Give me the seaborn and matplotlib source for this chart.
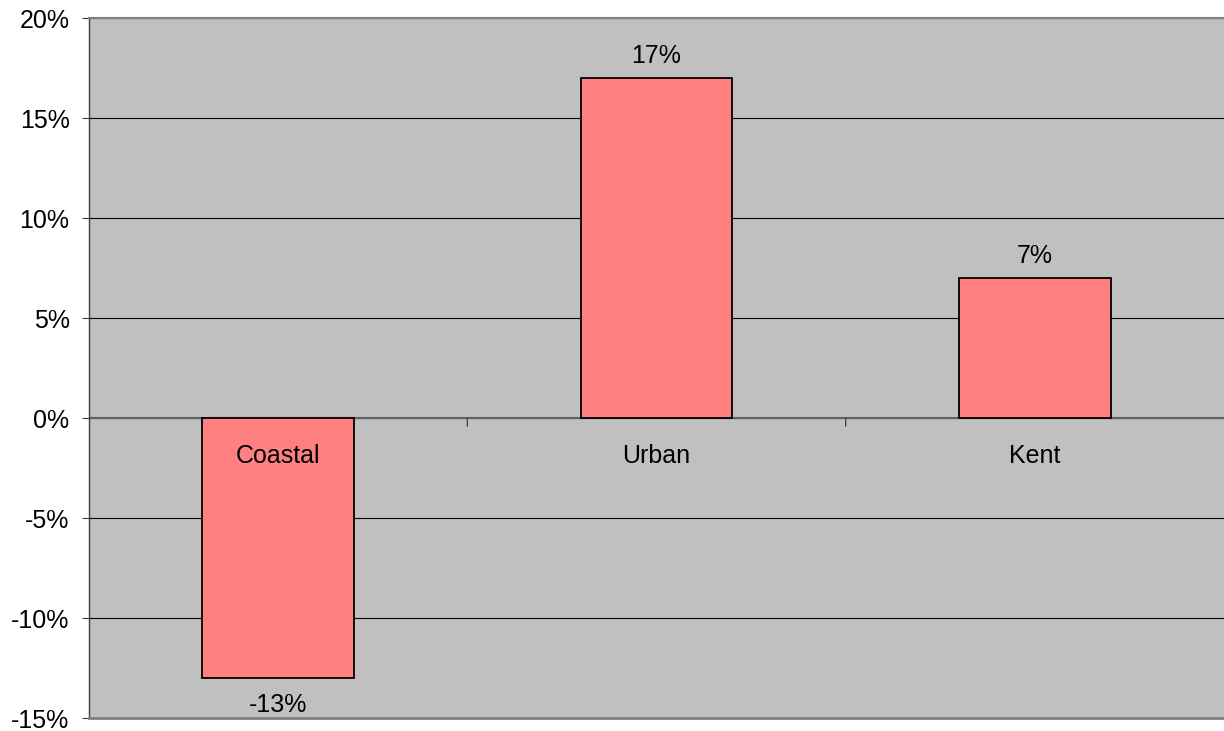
import matplotlib
matplotlib.use("Agg")
import matplotlib.pyplot as plt
import seaborn as sns
import pandas as pd
from matplotlib.ticker import FuncFormatter, MultipleLocator

categories = ["Coastal", "Urban", "Kent"]
change_pct = [-13, 17, 7]

df = pd.DataFrame({"area": categories, "change": change_pct})

sns.set_style("white")
plt.rcParams["font.family"] = ["Liberation Sans", "DejaVu Sans"]
plt.rcParams["text.color"] = "black"
plt.rcParams["ytick.color"] = "black"
plt.rcParams["xtick.color"] = "black"

fig = plt.figure(figsize=(12.24, 7.31), dpi=100)
ax = fig.add_axes([89 / 1224, 13 / 731, 1 - 89 / 1224, 700 / 731])
ax.set_facecolor("#C0C0C0")
ax.set_axisbelow(True)

sns.barplot(data=df, x="area", y="change", color="#FF8080", saturation=1,
            edgecolor="black", linewidth=1.3, width=0.4, ax=ax, zorder=2)

ax.set_xlim(-0.5, 2.5)
ax.set_ylim(-15, 20)
ax.yaxis.set_major_locator(MultipleLocator(5))
ax.yaxis.set_major_formatter(FuncFormatter(lambda v, _: f"{v:.0f}%"))
ax.grid(axis="y", color="black", linewidth=0.8)
ax.grid(axis="x", visible=False)
ax.tick_params(axis="y", direction="out", length=5, width=0.8, color="#404040",
               labelsize=18, labelcolor="black", pad=9, left=True)

# category separators on the zero line
ax.set_xticks([0.5, 1.5])
ax.set_xticklabels([])
ax.tick_params(axis="x", length=0)
ax.axhline(0, color="#606060", linewidth=1.5, zorder=1.5)
for xpos in [0.5, 1.5]:
    ax.annotate("", xy=(xpos, 0), xycoords="data", xytext=(0, -6),
                textcoords="offset points",
                arrowprops=dict(arrowstyle="-", color="#404040", lw=0.9,
                                shrinkA=0, shrinkB=0))

# category names under the zero line
for i, name in enumerate(categories):
    ax.annotate(name, xy=(i, 0), xytext=(0, -27.5), textcoords="offset points",
                ha="center", va="center", fontsize=18, color="black", zorder=5)

ax.set_xlabel("")
ax.set_ylabel("")

# value labels just beyond the end of each bar
for i, v in enumerate(change_pct):
    offset = 7.5 if v >= 0 else -10.5
    ax.annotate(f"{v:.0f}%", xy=(i, v), xytext=(0, offset),
                textcoords="offset points", ha="center",
                va="bottom" if v >= 0 else "top", fontsize=18, color="black")

ax.spines["left"].set_color("#404040")
ax.spines["left"].set_linewidth(1.0)
ax.spines["top"].set_color("#808080")
ax.spines["top"].set_linewidth(1.5)
ax.spines["bottom"].set_color("#808080")
ax.spines["bottom"].set_linewidth(2.0)
ax.spines["right"].set_visible(False)

fig.savefig("out.png", dpi=100, facecolor="white")
